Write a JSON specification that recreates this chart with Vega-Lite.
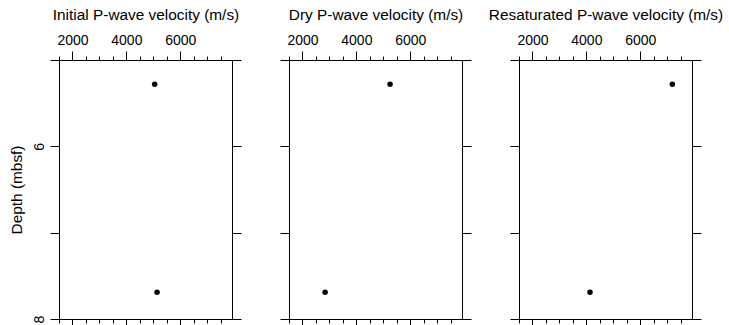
{
  "$schema": "https://vega.github.io/schema/vega-lite/v6.json",
  "padding": {"left": 8, "top": 6, "right": 5, "bottom": 0},
  "bounds": "flush",
  "spacing": 57,
  "data": {"values": [
    {"depth": 5.28, "initial": 5050, "dry": 5250, "resat": 7190},
    {"depth": 7.69, "initial": 5140, "dry": 2840, "resat": 4135}
  ]},
  "config": {
    "font": "Liberation Sans",
    "view": {"stroke": "#000", "strokeWidth": 1},
    "axis": {"domainColor": "#000", "tickColor": "#000", "labelColor": "#000", "titleColor": "#000", "labelFont": "Liberation Sans", "titleFont": "Liberation Sans", "labelFontSize": 14, "titleFontSize": 15.4, "titleFontWeight": "normal", "grid": false, "tickWidth": 1, "domainWidth": 1}
  },
  "hconcat": [
    {
      "width": 173, "height": 259,
      "resolve": {"axis": {"x": "independent", "y": "independent"}},
      "layer": [
        {"mark": {"type": "point", "filled": true, "color": "#000", "size": 30, "opacity": 1},
         "encoding": {
           "x": {"field": "initial", "type": "quantitative", "scale": {"domain": [1500, 7920], "nice": false, "zero": false},
             "axis": {"orient": "top", "values": [1500,2000,2500,3000,3500,4000,4500,5000,5500,6000,6500,7000,7500], "format": "d", "labelExpr": "datum.value % 2000 === 0 ? datum.label : ''", "tickSize": {"condition": {"test": "datum.value % 2000 === 0", "value": 9}, "value": 4}, "labelPadding": 4, "title": "Initial P-wave velocity (m/s)", "titlePadding": 11}},
           "y": {"field": "depth", "type": "quantitative", "scale": {"domain": [5, 8], "reverse": true, "nice": false, "zero": false},
             "axis": {"orient": "left", "values": [5,6,7,8], "labelExpr": "datum.value === 6 || datum.value === 8 ? datum.label : ''", "labelAngle": -90, "labelAlign": "center", "labelBaseline": "bottom", "tickSize": 9, "labelPadding": 4, "title": "Depth (mbsf)", "titlePadding": 8}}
         }},
        {"mark": {"type": "point", "filled": true, "color": "#000", "size": 30, "opacity": 0},
         "encoding": {
           "x": {"field": "initial", "type": "quantitative",
             "axis": {"orient": "bottom", "values": [1500,2000,2500,3000,3500,4000,4500,5000,5500,6000,6500,7000,7500], "labels": false, "tickSize": {"condition": {"test": "datum.value % 2000 === 0", "value": 9}, "value": 4}, "title": null}},
           "y": {"field": "depth", "type": "quantitative",
             "axis": {"orient": "right", "values": [5,6,7,8], "labels": false, "tickSize": 9, "title": null}}
         }}
      ]
    },
    {
      "width": 173, "height": 259,
      "resolve": {"axis": {"x": "independent", "y": "independent"}},
      "layer": [
        {"mark": {"type": "point", "filled": true, "color": "#000", "size": 30, "opacity": 1},
         "encoding": {
           "x": {"field": "dry", "type": "quantitative", "scale": {"domain": [1500, 7920], "nice": false, "zero": false},
             "axis": {"orient": "top", "values": [1500,2000,2500,3000,3500,4000,4500,5000,5500,6000,6500,7000,7500], "format": "d", "labelExpr": "datum.value % 2000 === 0 ? datum.label : ''", "tickSize": {"condition": {"test": "datum.value % 2000 === 0", "value": 9}, "value": 4}, "labelPadding": 4, "title": "Dry P-wave velocity (m/s)", "titlePadding": 11}},
           "y": {"field": "depth", "type": "quantitative", "scale": {"domain": [5, 8], "reverse": true, "nice": false, "zero": false},
             "axis": {"orient": "left", "values": [5,6,7,8], "labels": false, "tickSize": 9, "title": null}}
         }},
        {"mark": {"type": "point", "filled": true, "color": "#000", "size": 30, "opacity": 0},
         "encoding": {
           "x": {"field": "dry", "type": "quantitative",
             "axis": {"orient": "bottom", "values": [1500,2000,2500,3000,3500,4000,4500,5000,5500,6000,6500,7000,7500], "labels": false, "tickSize": {"condition": {"test": "datum.value % 2000 === 0", "value": 9}, "value": 4}, "title": null}},
           "y": {"field": "depth", "type": "quantitative",
             "axis": {"orient": "right", "values": [5,6,7,8], "labels": false, "tickSize": 9, "title": null}}
         }}
      ]
    },
    {
      "width": 173, "height": 259,
      "resolve": {"axis": {"x": "independent", "y": "independent"}},
      "layer": [
        {"mark": {"type": "point", "filled": true, "color": "#000", "size": 30, "opacity": 1},
         "encoding": {
           "x": {"field": "resat", "type": "quantitative", "scale": {"domain": [1500, 7920], "nice": false, "zero": false},
             "axis": {"orient": "top", "values": [1500,2000,2500,3000,3500,4000,4500,5000,5500,6000,6500,7000,7500], "format": "d", "labelExpr": "datum.value % 2000 === 0 ? datum.label : ''", "tickSize": {"condition": {"test": "datum.value % 2000 === 0", "value": 9}, "value": 4}, "labelPadding": 4, "title": "Resaturated P-wave velocity (m/s)", "titlePadding": 11}},
           "y": {"field": "depth", "type": "quantitative", "scale": {"domain": [5, 8], "reverse": true, "nice": false, "zero": false},
             "axis": {"orient": "left", "values": [5,6,7,8], "labels": false, "tickSize": 9, "title": null}}
         }},
        {"mark": {"type": "point", "filled": true, "color": "#000", "size": 30, "opacity": 0},
         "encoding": {
           "x": {"field": "resat", "type": "quantitative",
             "axis": {"orient": "bottom", "values": [1500,2000,2500,3000,3500,4000,4500,5000,5500,6000,6500,7000,7500], "labels": false, "tickSize": {"condition": {"test": "datum.value % 2000 === 0", "value": 9}, "value": 4}, "title": null}},
           "y": {"field": "depth", "type": "quantitative",
             "axis": {"orient": "right", "values": [5,6,7,8], "labels": false, "tickSize": 9, "title": null}}
         }}
      ]
    }
  ]
}
